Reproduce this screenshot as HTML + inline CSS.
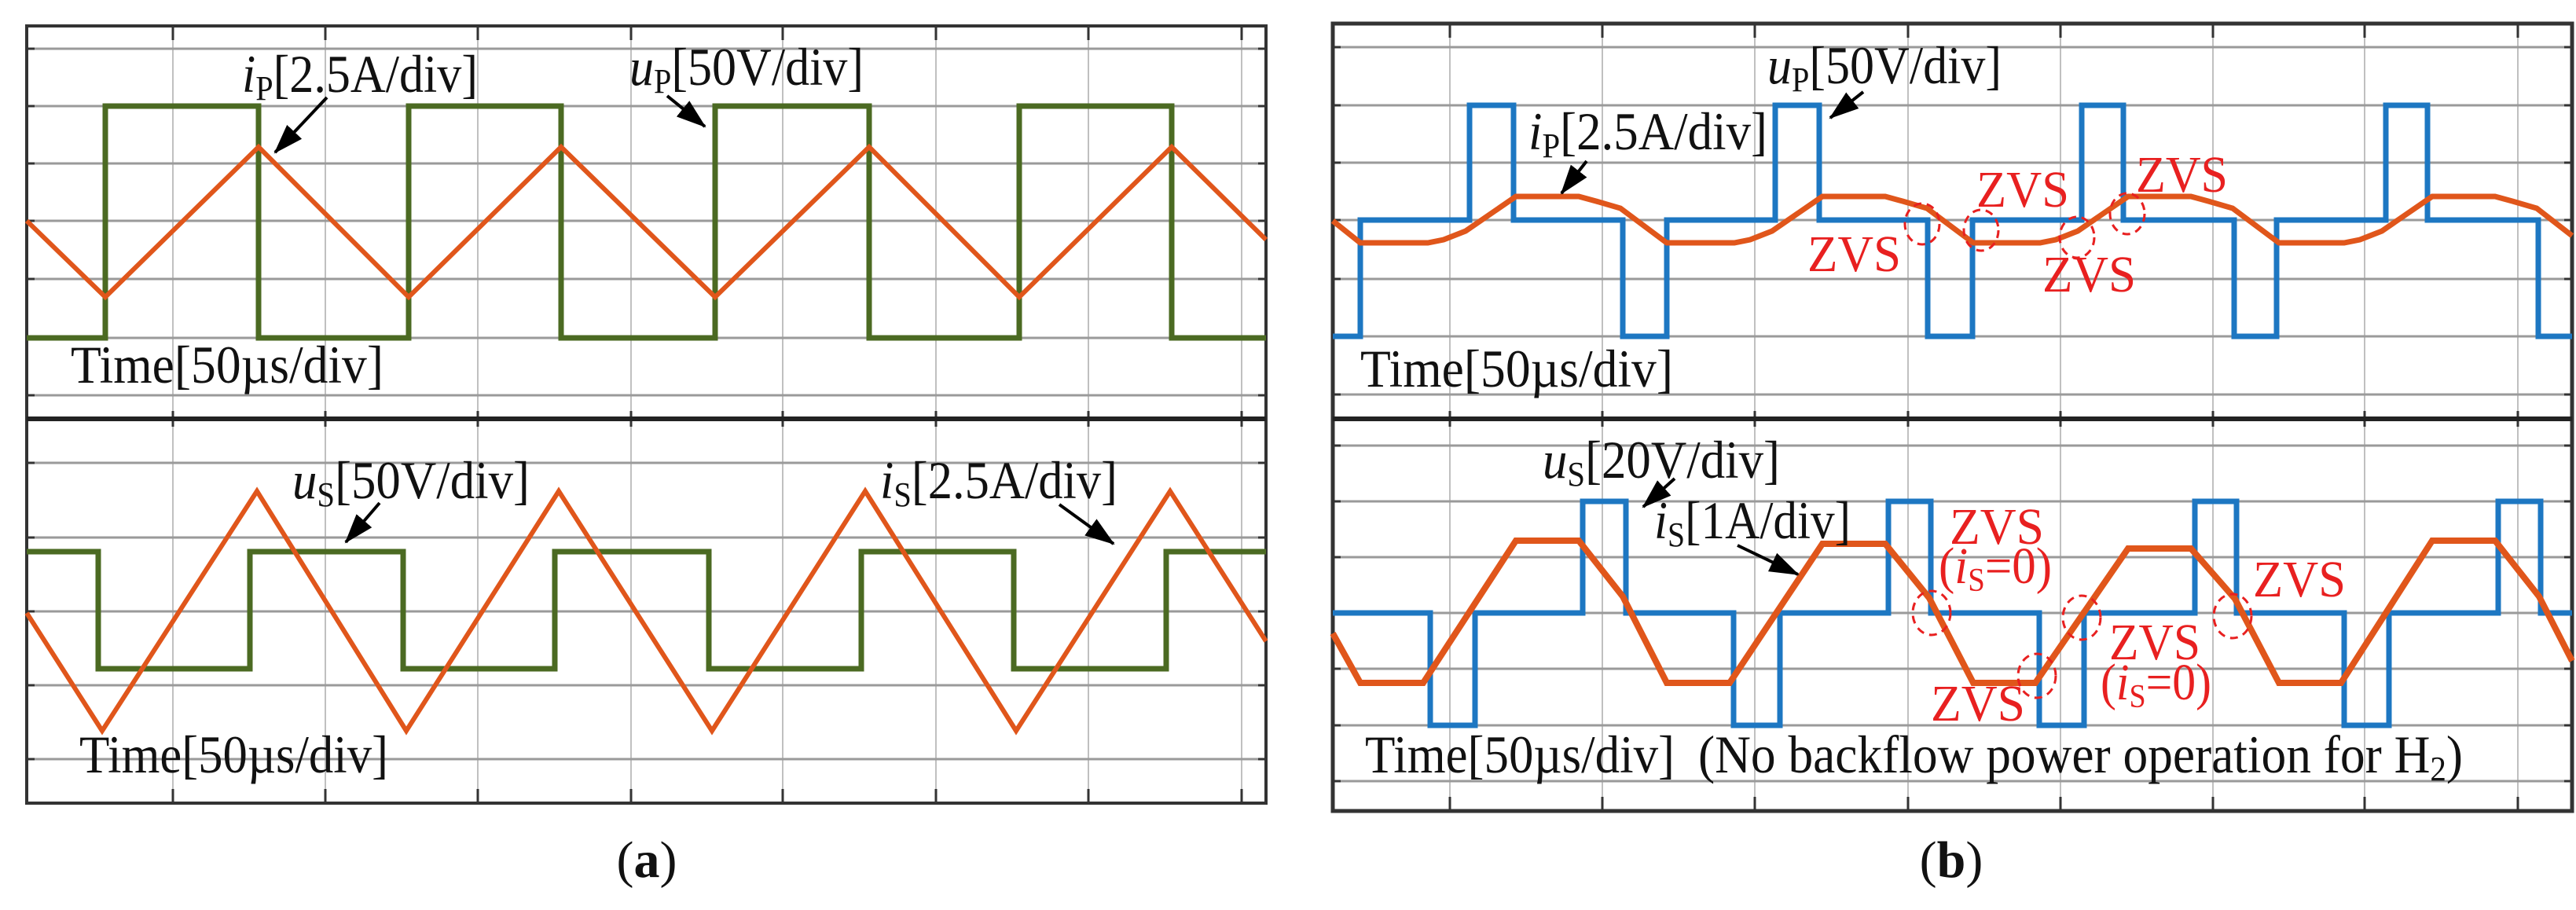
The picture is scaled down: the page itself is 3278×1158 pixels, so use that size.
<!DOCTYPE html>
<html><head><meta charset="utf-8"><style>
html,body{margin:0;padding:0;background:#fff}
svg{display:block}
text{font-family:"Liberation Serif",serif}
</style></head><body>
<svg width="3278" height="1158" viewBox="0 0 3278 1158" xmlns="http://www.w3.org/2000/svg">
<defs>
<marker id="ah" markerUnits="userSpaceOnUse" markerWidth="40" markerHeight="30" refX="36" refY="15" orient="auto">
<path d="M0,2 L38,15 L0,28 Z" fill="#000"/>
</marker>
</defs>
<rect width="3278" height="1158" fill="#fff"/>

<!-- ===== Panel (a) grid ===== -->
<g stroke="#c0c0c0" stroke-width="2">
<path d="M220,33V1022M414,33V1022M608,33V1022M803,33V1022M996,33V1022M1191,33V1022M1385,33V1022M1580,33V1022"/>
</g>
<g stroke="#9a9a9a" stroke-width="3">
<path d="M34,62H1611M34,135H1611M34,208H1611M34,281H1611M34,355H1611M34,430H1611M34,503H1611"/>
<path d="M34,589H1611M34,684H1611M34,778H1611M34,872H1611M34,966H1611"/>
</g>
<g stroke="#333" stroke-width="3">
<path d="M34,62h10M34,135h10M34,208h10M34,281h10M34,355h10M34,430h10M34,503h10M34,589h10M34,684h10M34,778h10M34,872h10M34,966h10"/>
<path d="M1611,62h-10M1611,135h-10M1611,208h-10M1611,281h-10M1611,355h-10M1611,430h-10M1611,503h-10M1611,589h-10M1611,684h-10M1611,778h-10M1611,872h-10M1611,966h-10"/>
<path d="M220,33v18M414,33v18M608,33v18M803,33v18M996,33v18M1191,33v18M1385,33v18M1580,33v18"/>
<path d="M220,1022v-18M414,1022v-18M608,1022v-18M803,1022v-18M996,1022v-18M1191,1022v-18M1385,1022v-18M1580,1022v-18"/>
<path d="M220,523v20M414,523v20M608,523v20M803,523v20M996,523v20M1191,523v20M1385,523v20M1580,523v20"/>
</g>
<rect x="34" y="33" width="1577" height="989" fill="none" stroke="#333" stroke-width="4"/>
<line x1="34" y1="533" x2="1611" y2="533" stroke="#222" stroke-width="6"/>

<!-- waves (a) top -->
<path d="M34,430 H134 V135 H329 V430 H520 V135 H714 V430 H910 V135 H1106 V430 H1297 V135 H1491 V430 H1611" fill="none" stroke="#4b6a22" stroke-width="7"/>
<path d="M34,281 L134,378 L329,187 L520,378 L714,187 L910,378 L1106,187 L1297,378 L1491,187 L1611,305" fill="none" stroke="#e0561b" stroke-width="6"/>
<!-- waves (a) bottom -->
<path d="M34,702 H125 V851 H318 V702 H513 V851 H706 V702 H902 V851 H1096 V702 H1290 V851 H1484 V702 H1611" fill="none" stroke="#4b6a22" stroke-width="7"/>
<path d="M34,780 L130,930 L327,625 L517,930 L711,625 L906,930 L1101,625 L1293,930 L1489,625 L1611,816" fill="none" stroke="#e0561b" stroke-width="6"/>

<!-- labels (a) -->
<g font-size="68" fill="#111">
<text x="308" y="117" textLength="300" lengthAdjust="spacingAndGlyphs"><tspan font-style="italic">i</tspan><tspan font-size="44" dy="10">P</tspan><tspan dy="-10">[2.5A/div]</tspan></text>
<text x="801" y="108" textLength="298" lengthAdjust="spacingAndGlyphs"><tspan font-style="italic">u</tspan><tspan font-size="44" dy="10">P</tspan><tspan dy="-10">[50V/div]</tspan></text>
<text x="90" y="487" textLength="398" lengthAdjust="spacingAndGlyphs">Time[50µs/div]</text>
<text x="372" y="634" textLength="302" lengthAdjust="spacingAndGlyphs"><tspan font-style="italic">u</tspan><tspan font-size="44" dy="10">S</tspan><tspan dy="-10">[50V/div]</tspan></text>
<text x="1120" y="634" textLength="302" lengthAdjust="spacingAndGlyphs"><tspan font-style="italic">i</tspan><tspan font-size="44" dy="10">S</tspan><tspan dy="-10">[2.5A/div]</tspan></text>
<text x="101" y="983" textLength="393" lengthAdjust="spacingAndGlyphs">Time[50µs/div]</text>
</g>
<g stroke="#000" stroke-width="4" marker-end="url(#ah)">
<line x1="416" y1="124" x2="350" y2="194"/>
<line x1="849" y1="122" x2="897" y2="161"/>
<line x1="483" y1="640" x2="440" y2="690"/>
<line x1="1348" y1="642" x2="1417" y2="692"/>
</g>
<text x="823" y="1116" font-size="66" text-anchor="middle" fill="#111">(<tspan font-weight="bold">a</tspan>)</text>

<!-- ===== Panel (b) grid ===== -->
<g stroke="#c0c0c0" stroke-width="2">
<path d="M1845,30V1032M2039,30V1032M2233,30V1032M2428,30V1032M2622,30V1032M2816,30V1032M3009,30V1032M3204,30V1032"/>
</g>
<g stroke="#9a9a9a" stroke-width="3">
<path d="M1696,60H3273M1696,134H3273M1696,207H3273M1696,280H3273M1696,355H3273M1696,428H3273M1696,502H3273"/>
<path d="M1696,567H3273M1696,638H3273M1696,709H3273M1696,780H3273M1696,851H3273M1696,923H3273M1696,994H3273"/>
</g>
<g stroke="#333" stroke-width="3">
<path d="M1696,60h10M1696,134h10M1696,207h10M1696,280h10M1696,355h10M1696,428h10M1696,502h10M1696,567h10M1696,638h10M1696,709h10M1696,780h10M1696,851h10M1696,923h10M1696,994h10"/>
<path d="M3273,60h-10M3273,134h-10M3273,207h-10M3273,280h-10M3273,355h-10M3273,428h-10M3273,502h-10M3273,567h-10M3273,638h-10M3273,709h-10M3273,780h-10M3273,851h-10M3273,923h-10M3273,994h-10"/>
<path d="M1845,30v18M2039,30v18M2233,30v18M2428,30v18M2622,30v18M2816,30v18M3009,30v18M3204,30v18"/>
<path d="M1845,1032v-18M2039,1032v-18M2233,1032v-18M2428,1032v-18M2622,1032v-18M2816,1032v-18M3009,1032v-18M3204,1032v-18"/>
<path d="M1845,523v20M2039,523v20M2233,523v20M2428,523v20M2622,523v20M2816,523v20M3009,523v20M3204,523v20"/>
</g>
<rect x="1696" y="30" width="1577" height="1002" fill="none" stroke="#333" stroke-width="5"/>
<line x1="1696" y1="533" x2="3273" y2="533" stroke="#222" stroke-width="6"/>

<!-- waves (b) top -->
<path d="M1696,428 H1731 V280 H1870 V134 H1926 V280 H2065 V428 H2121 V280 H2259 V134 H2315 V280 H2453 V428 H2510 V280 H2649 V134 H2702 V280 H2843 V428 H2897 V280 H3036 V134 H3089 V280 H3230 V428 H3273" fill="none" stroke="#1d77c2" stroke-width="7"/>
<path d="M1696,281 L1731,309 L1817,309 L1837,305 L1865,294 L1929,250 L2009,250 L2031,256 L2062,265 L2121,309
L2207,309 L2227,305 L2255,294 L2319,250 L2399,250 L2421,256 L2452,265 L2511,309
L2596,309 L2616,305 L2644,294 L2708,250 L2788,250 L2810,256 L2841,265 L2900,309
L2983,309 L3003,305 L3031,294 L3095,250 L3175,250 L3197,256 L3228,265 L3273,300" fill="none" stroke="#e0561b" stroke-width="7"/>
<!-- waves (b) bottom -->
<path d="M1696,780 H1820 V923 H1877 V780 H2014 V638 H2069 V780 H2206 V923 H2265 V780 H2403 V638 H2457 V780 H2595 V923 H2652 V780 H2793 V638 H2846 V780 H2983 V923 H3040 V780 H3179 V638 H3233 V780 H3273" fill="none" stroke="#1d77c2" stroke-width="7"/>
<path d="M1696,806 L1731,869 L1811,869 L1929,688 L2009,688 L2065,759 L2121,869
L2201,869 L2319,692 L2399,692 L2455,761 L2511,869
L2590,869 L2708,698 L2788,698 L2844,762 L2900,869
L2979,869 L3095,688 L3175,688 L3231,759 L3273,841" fill="none" stroke="#e0561b" stroke-width="8"/>

<!-- labels (b) -->
<g font-size="68" fill="#111">
<text x="2249" y="106" textLength="298" lengthAdjust="spacingAndGlyphs"><tspan font-style="italic">u</tspan><tspan font-size="44" dy="10">P</tspan><tspan dy="-10">[50V/div]</tspan></text>
<text x="1945" y="190" textLength="304" lengthAdjust="spacingAndGlyphs"><tspan font-style="italic">i</tspan><tspan font-size="44" dy="10">P</tspan><tspan dy="-10">[2.5A/div]</tspan></text>
<text x="1731" y="492" textLength="398" lengthAdjust="spacingAndGlyphs">Time[50µs/div]</text>
<text x="1963" y="608" textLength="302" lengthAdjust="spacingAndGlyphs"><tspan font-style="italic">u</tspan><tspan font-size="44" dy="10">S</tspan><tspan dy="-10">[20V/div]</tspan></text>
<text x="2105" y="685" textLength="250" lengthAdjust="spacingAndGlyphs"><tspan font-style="italic">i</tspan><tspan font-size="44" dy="10">S</tspan><tspan dy="-10">[1A/div]</tspan></text>
<text x="1737" y="983" textLength="394" lengthAdjust="spacingAndGlyphs">Time[50µs/div]</text>
<text x="2161" y="983" textLength="973" lengthAdjust="spacingAndGlyphs">(No backflow power operation for H<tspan font-size="44" dy="10">2</tspan><tspan dy="-10">)</tspan></text>
</g>
<g stroke="#000" stroke-width="4" marker-end="url(#ah)">
<line x1="2371" y1="117" x2="2329" y2="150"/>
<line x1="2019" y1="205" x2="1987" y2="246"/>
<line x1="2131" y1="609" x2="2091" y2="645"/>
<line x1="2211" y1="694" x2="2288" y2="731"/>
</g>

<!-- red ZVS annotations -->
<g fill="#e82020" font-size="66">
<text x="2515" y="263" textLength="118" lengthAdjust="spacingAndGlyphs">ZVS</text>
<text x="2718" y="244" textLength="117" lengthAdjust="spacingAndGlyphs">ZVS</text>
<text x="2300" y="345" textLength="119" lengthAdjust="spacingAndGlyphs">ZVS</text>
<text x="2599" y="371" textLength="119" lengthAdjust="spacingAndGlyphs">ZVS</text>
<text x="2481" y="692" textLength="120" lengthAdjust="spacingAndGlyphs">ZVS</text>
<text x="2467" y="742" textLength="144" lengthAdjust="spacingAndGlyphs">(<tspan font-style="italic">i</tspan><tspan font-size="42" dy="10">S</tspan><tspan dy="-10">=0)</tspan></text>
<text x="2867" y="759" textLength="118" lengthAdjust="spacingAndGlyphs">ZVS</text>
<text x="2684" y="839" textLength="116" lengthAdjust="spacingAndGlyphs">ZVS</text>
<text x="2673" y="890" textLength="141" lengthAdjust="spacingAndGlyphs">(<tspan font-style="italic">i</tspan><tspan font-size="42" dy="10">S</tspan><tspan dy="-10">=0)</tspan></text>
<text x="2457" y="917" textLength="120" lengthAdjust="spacingAndGlyphs">ZVS</text>
</g>
<g fill="none" stroke="#e82020" stroke-width="3" stroke-dasharray="10,7">
<ellipse cx="2446" cy="285" rx="22" ry="26"/>
<ellipse cx="2521" cy="293" rx="22" ry="26"/>
<ellipse cx="2643" cy="302" rx="22" ry="26"/>
<ellipse cx="2707" cy="272" rx="22" ry="26"/>
<ellipse cx="2458" cy="780" rx="24" ry="28"/>
<ellipse cx="2649" cy="786" rx="24" ry="28"/>
<ellipse cx="2841" cy="784" rx="24" ry="28"/>
<ellipse cx="2592" cy="860" rx="24" ry="28"/>
</g>
<text x="2483" y="1116" font-size="66" text-anchor="middle" fill="#111">(<tspan font-weight="bold">b</tspan>)</text>
</svg>
</body></html>
